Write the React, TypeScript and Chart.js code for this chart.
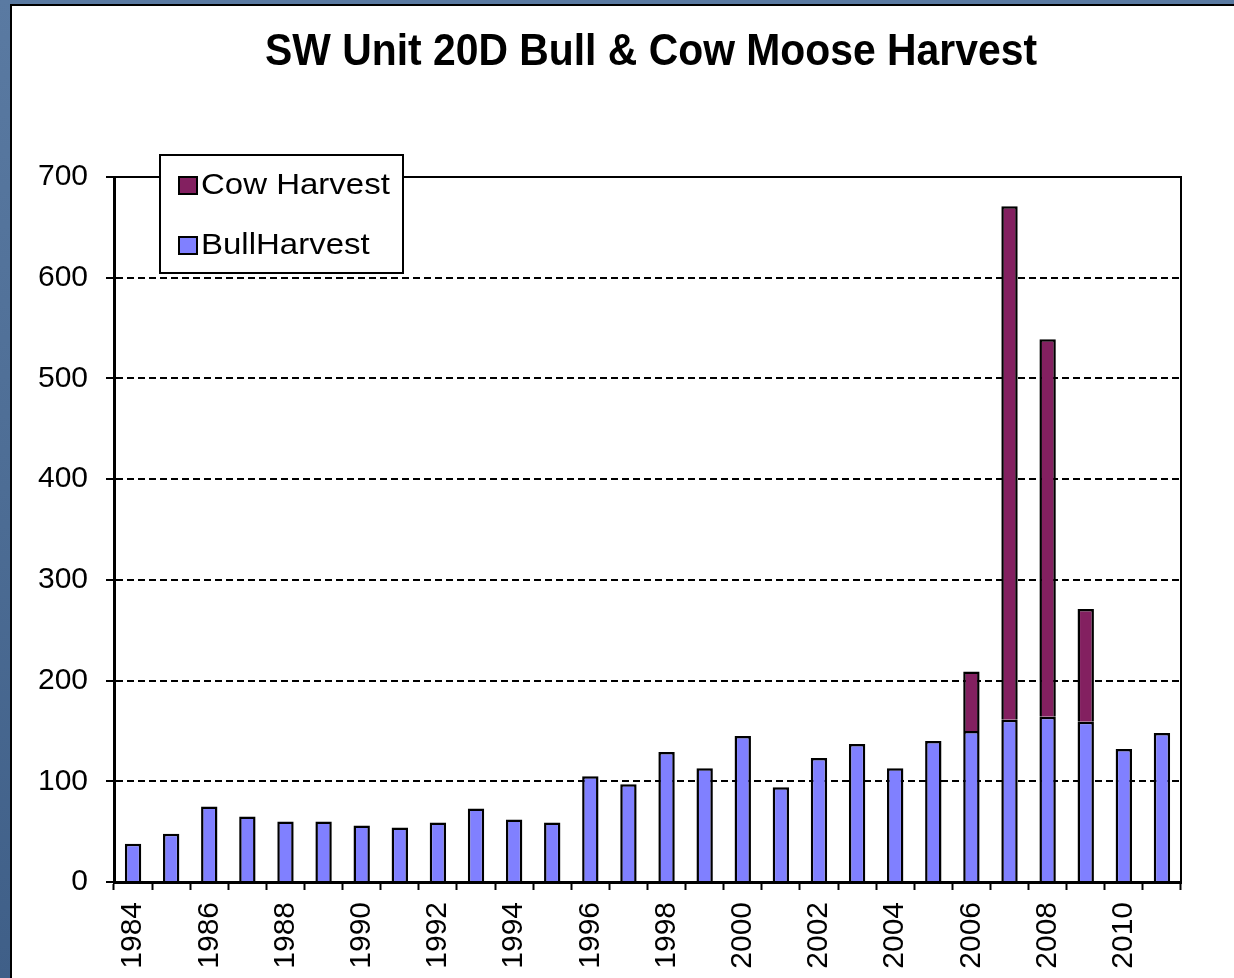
import React, { useEffect, useRef } from "react";
import { Chart, registerables } from "chart.js";

Chart.register(...registerables);

const TITLE = "SW Unit 20D Bull & Cow Moose Harvest";
const YEARS = [
  "1984", "1985", "1986", "1987", "1988", "1989", "1990", "1991", "1992", "1993",
  "1994", "1995", "1996", "1997", "1998", "1999", "2000", "2001", "2002", "2003",
  "2004", "2005", "2006", "2007", "2008", "2009", "2010", "2011",
];
const BULL_HARVEST = [
  38, 48, 75, 65, 60, 60, 56, 54, 59, 73,
  62, 59, 105, 97, 129, 113, 145, 94, 123, 137,
  113, 140, 150, 161, 164, 159, 132, 148,
];
const COW_HARVEST = [
  null, null, null, null, null, null, null, null, null, null,
  null, null, null, null, null, null, null, null, null, null,
  null, null, 59, 510, 375, 112, null, null,
];
const Y_MIN = 0;
const Y_MAX = 700;
const Y_STEP = 100;

const FONT = 'Arial, "Liberation Sans", sans-serif';
const BULL_COLOR = "#8080FF";
const COW_COLOR = "#832060";

const framePlugin = {
  id: "frame",
  beforeDatasetsDraw(chart: any) {
    const { ctx, chartArea: a } = chart;
    ctx.save();
    ctx.strokeStyle = "#000";
    ctx.lineWidth = 2;
    ctx.beginPath();
    ctx.moveTo(a.left, a.top);
    ctx.lineTo(a.right, a.top);
    ctx.lineTo(a.right, a.bottom);
    ctx.stroke();
    ctx.restore();
  },
};

const titlePlugin = {
  id: "customTitle",
  afterDraw(chart: any) {
    const { ctx } = chart;
    ctx.save();
    ctx.fillStyle = "#000";
    ctx.font = `bold 44px ${FONT}`;
    const w = ctx.measureText(TITLE).width;
    const sx = 772 / w;
    ctx.translate(651, 53);
    ctx.scale(sx, 1);
    ctx.textAlign = "center";
    ctx.textBaseline = "middle";
    ctx.fillText(TITLE, 0, 0);
    ctx.restore();
  },
};

const legendPlugin = {
  id: "customLegend",
  afterDraw(chart: any) {
    const { ctx } = chart;
    const ds = chart.data.datasets.slice().reverse();
    const box = { x: 160, y: 155, w: 243, h: 118 };
    ctx.save();
    ctx.fillStyle = "#fff";
    ctx.fillRect(box.x, box.y, box.w, box.h);
    ctx.strokeStyle = "#000";
    ctx.lineWidth = 2;
    ctx.strokeRect(box.x, box.y, box.w, box.h);
    ds.forEach((d: any, i: number) => {
      const cy = 185 + i * 60;
      ctx.fillStyle = d.backgroundColor;
      ctx.fillRect(179, cy - 8, 18, 17);
      ctx.strokeStyle = "#000";
      ctx.lineWidth = 2;
      ctx.strokeRect(179, cy - 8, 18, 17);
      ctx.save();
      ctx.font = `30px ${FONT}`;
      ctx.textBaseline = "middle";
      ctx.textAlign = "left";
      ctx.fillStyle = "#000";
      ctx.translate(201, cy + 1);
      ctx.scale(1.1, 1);
      ctx.fillText(d.label, 0, 0);
      ctx.restore();
    });
    ctx.restore();
  },
};

function HarvestChart() {
  const ref = useRef<HTMLCanvasElement | null>(null);
  useEffect(() => {
    if (!ref.current) return;
    const chart = new Chart(ref.current, {
      type: "bar",
      data: {
        labels: YEARS,
        datasets: [
          {
            label: "BullHarvest",
            data: BULL_HARVEST,
            backgroundColor: BULL_COLOR,
            borderColor: "#000",
            borderWidth: 2.5,
            barPercentage: 0.43,
            categoryPercentage: 1,
          },
          {
            label: "Cow Harvest",
            data: COW_HARVEST as any,
            backgroundColor: COW_COLOR,
            borderColor: "#000",
            borderWidth: 2.5,
            barPercentage: 0.43,
            categoryPercentage: 1,
          },
        ],
      },
      options: {
        responsive: false,
        animation: false,
        devicePixelRatio: 1,
        layout: { padding: { left: 0, right: 53, top: 177, bottom: 0 } },
        plugins: {
          legend: { display: false },
          title: { display: false },
          tooltip: { enabled: false },
        },
        scales: {
          x: {
            stacked: true,
            offset: true,
            afterFit: (s: any) => {
              s.height = 96;
            },
            grid: {
              display: true,
              offset: true,
              drawOnChartArea: false,
              drawTicks: true,
              tickLength: 8,
              tickWidth: 2,
              tickColor: "#000",
              color: "#000",
            },
            border: { display: true, color: "#000", width: 3 },
            ticks: {
              autoSkip: false,
              maxRotation: 90,
              minRotation: 90,
              padding: 12,
              color: "#000",
              font: { family: FONT, size: 30 },
              callback: (_v: any, i: number) => (i % 2 === 0 ? YEARS[i] : ""),
            },
          },
          y: {
            stacked: true,
            min: Y_MIN,
            max: Y_MAX,
            afterFit: (s: any) => {
              s.width = 114;
            },
            grid: {
              color: "#000",
              lineWidth: 2,
              drawTicks: true,
              tickLength: 8,
              tickWidth: 2,
              tickColor: "#000",
              tickBorderDash: [],
            },
            border: { display: true, color: "#000", width: 3, dash: [7, 4] },
            ticks: {
              stepSize: Y_STEP,
              padding: 18,
              color: "#000",
              font: { family: FONT, size: 30 },
            },
          },
        },
      },
      plugins: [framePlugin, titlePlugin, legendPlugin],
    });
    return () => chart.destroy();
  }, []);
  return (
    <canvas
      ref={ref}
      width={1234}
      height={978}
      style={{ position: "absolute", left: 0, top: 0, width: 1234, height: 978 }}
    />
  );
}

export default function App() {
  return (
    <div
      style={{
        position: "fixed",
        left: 0,
        top: 0,
        width: 1234,
        height: 978,
        overflow: "hidden",
        background: "linear-gradient(180deg, #5a7aa2 0%, #4d6d95 50%, #3f5f88 100%)",
      }}
    >
      <div
        style={{
          position: "absolute",
          left: 10,
          top: 4,
          right: -4,
          bottom: -4,
          background: "#fff",
          borderLeft: "2px solid #000",
          borderTop: "2px solid #000",
        }}
      />
      <HarvestChart />
    </div>
  );
}
